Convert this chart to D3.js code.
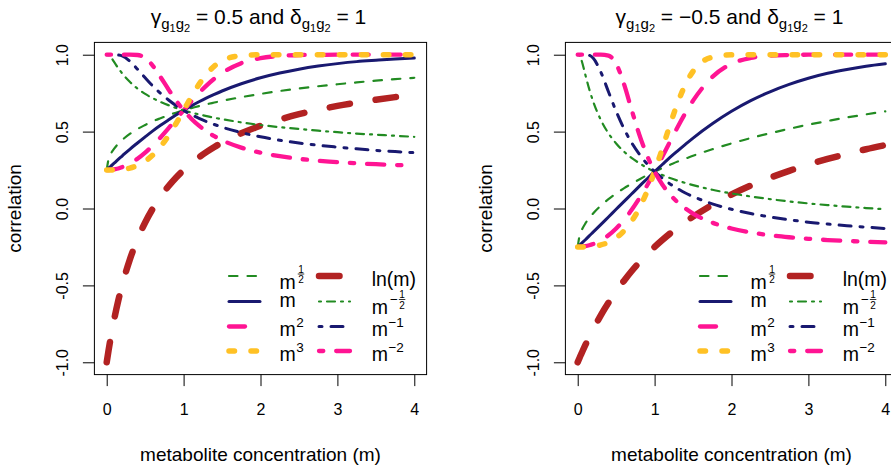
<!DOCTYPE html>
<html>
<head>
<meta charset="utf-8">
<script src="https://cdn.jsdelivr.net/npm/d3@7"></script>
<style>
  body { margin: 0; background: #fff; }
  svg { display: block; font-family: "Liberation Sans", Arial, sans-serif; }
</style>
</head>
<body>
<svg id="chart" width="891" height="468"></svg>
<script>
// metabolite concentration grid shared by every curve
const mValues = [0, 0.025, 0.05, 0.1, 0.15, 0.2, 0.3, 0.4, 0.5, 0.6, 0.7, 0.8, 0.9, 1,
  1.1, 1.2, 1.3, 1.4, 1.5, 1.75, 2, 2.25, 2.5, 2.75, 3, 3.25, 3.5, 3.75, 4];

const xTicks = [0, 1, 2, 3, 4];
const yTicks = [-1, -0.5, 0, 0.5, 1];
const yTickLabels = ["-1.0", "-0.5", "0.0", "0.5", "1.0"];

// panel 1: gamma = 0.5, delta = 1
const gammaA = "0.5";
const deltaA = "1";
const aSqrt = [0.25, 0.323, 0.352, 0.391, 0.421, 0.445, 0.485, 0.517, 0.543, 0.567, 0.587, 0.606, 0.623, 0.638, 0.653, 0.666, 0.678, 0.689, 0.700, 0.724, 0.745, 0.764, 0.780, 0.795, 0.808, 0.820, 0.831, 0.841, 0.850];
const aLin = [0.25, 0.262, 0.273, 0.296, 0.319, 0.341, 0.385, 0.426, 0.466, 0.505, 0.541, 0.575, 0.608, 0.638, 0.667, 0.694, 0.719, 0.742, 0.764, 0.811, 0.850, 0.881, 0.906, 0.926, 0.942, 0.955, 0.964, 0.972, 0.978];
const aSq = [0.25, 0.250, 0.251, 0.255, 0.260, 0.269, 0.292, 0.323, 0.363, 0.410, 0.462, 0.519, 0.579, 0.638, 0.696, 0.751, 0.801, 0.844, 0.881, 0.945, 0.978, 0.992, 0.998, 0.999, 1.000, 1.000, 1.000, 1.000, 1.000];
const aCube = [0.25, 0.250, 0.250, 0.250, 0.252, 0.254, 0.263, 0.280, 0.308, 0.348, 0.403, 0.471, 0.551, 0.638, 0.726, 0.807, 0.875, 0.926, 0.960, 0.994, 1.000, 1.000, 1.000, 1.000, 1.000, 1.000, 1.000, 1.000, 1.000];
const aLn = [-1, -0.920, -0.846, -0.714, -0.600, -0.500, -0.333, -0.200, -0.091, 0.000, 0.077, 0.143, 0.200, 0.250, 0.294, 0.333, 0.368, 0.400, 0.429, 0.489, 0.538, 0.579, 0.613, 0.642, 0.667, 0.688, 0.707, 0.724, 0.739];
const aInvSqrt = [1, 0.998, 0.986, 0.950, 0.913, 0.879, 0.824, 0.780, 0.745, 0.717, 0.693, 0.672, 0.654, 0.638, 0.624, 0.612, 0.601, 0.590, 0.581, 0.560, 0.543, 0.529, 0.517, 0.506, 0.496, 0.487, 0.480, 0.473, 0.466];
const aInv = [1, 1.000, 1.000, 1.000, 0.998, 0.992, 0.958, 0.906, 0.850, 0.796, 0.749, 0.707, 0.670, 0.638, 0.611, 0.586, 0.565, 0.546, 0.529, 0.494, 0.466, 0.444, 0.426, 0.411, 0.399, 0.388, 0.378, 0.370, 0.363];
const aInvSq = [1, 1, 1, 1, 1, 1, 1.000, 0.998, 0.978, 0.928, 0.855, 0.777, 0.703, 0.638, 0.584, 0.539, 0.501, 0.470, 0.444, 0.396, 0.363, 0.340, 0.323, 0.311, 0.301, 0.294, 0.288, 0.283, 0.279];

// panel 2: gamma = -0.5, delta = 1
const gammaB = "\u22120.5";
const deltaB = "1";
const bSqrt = [-0.25, -0.175, -0.143, -0.097, -0.062, -0.032, 0.018, 0.061, 0.098, 0.131, 0.161, 0.189, 0.216, 0.240, 0.263, 0.284, 0.305, 0.324, 0.343, 0.385, 0.423, 0.458, 0.489, 0.518, 0.545, 0.569, 0.592, 0.612, 0.632];
const bLin = [-0.25, -0.238, -0.226, -0.203, -0.178, -0.154, -0.105, -0.055, -0.005, 0.045, 0.094, 0.144, 0.192, 0.240, 0.286, 0.332, 0.375, 0.417, 0.458, 0.551, 0.632, 0.701, 0.759, 0.807, 0.847, 0.879, 0.904, 0.925, 0.941];
const bSq = [-0.25, -0.250, -0.249, -0.245, -0.239, -0.231, -0.207, -0.174, -0.130, -0.075, -0.010, 0.065, 0.148, 0.240, 0.336, 0.434, 0.530, 0.620, 0.701, 0.855, 0.941, 0.979, 0.994, 0.998, 1.000, 1.000, 1.000, 1.000, 1.000];
const bCube = [-0.25, -0.250, -0.250, -0.250, -0.248, -0.246, -0.237, -0.220, -0.191, -0.146, -0.084, 0.001, 0.109, 0.240, 0.389, 0.543, 0.687, 0.806, 0.892, 0.984, 0.999, 1.000, 1.000, 1.000, 1.000, 1.000, 1.000, 1.000, 1.000];
const bLn = [-1, -0.970, -0.942, -0.887, -0.835, -0.786, -0.695, -0.613, -0.538, -0.471, -0.408, -0.351, -0.299, -0.250, -0.205, -0.163, -0.124, -0.087, -0.053, 0.024, 0.091, 0.149, 0.200, 0.245, 0.286, 0.322, 0.355, 0.385, 0.412];
const bInvSqrt = [1, 0.994, 0.963, 0.868, 0.776, 0.698, 0.577, 0.489, 0.423, 0.371, 0.329, 0.295, 0.265, 0.240, 0.218, 0.198, 0.181, 0.166, 0.152, 0.122, 0.098, 0.078, 0.061, 0.046, 0.033, 0.022, 0.012, 0.003, -0.005];
const bInv = [1, 1.000, 1.000, 1.000, 0.996, 0.978, 0.888, 0.759, 0.632, 0.521, 0.429, 0.354, 0.291, 0.240, 0.197, 0.160, 0.129, 0.101, 0.078, 0.030, -0.005, -0.033, -0.055, -0.073, -0.089, -0.101, -0.112, -0.121, -0.130];
const bInvSq = [1, 1, 1, 1, 1, 1, 1.000, 0.994, 0.941, 0.812, 0.644, 0.482, 0.347, 0.240, 0.156, 0.092, 0.040, 0.000, -0.033, -0.092, -0.130, -0.155, -0.174, -0.187, -0.197, -0.205, -0.211, -0.216, -0.220];

// transformations, in drawing / legend order
const seriesKeys = ["sqrt", "lin", "sq", "cube", "ln", "invSqrt", "inv", "invSq"];
const legendBase = ["m", "m", "m", "m", "ln(m)", "m", "m", "m"];
const legendPower = ["1/2", "", "2", "3", "", "\u22121/2", "\u22121", "\u22122"];

const xLabel = "metabolite concentration (m)";
const yLabel = "correlation";

const panels = [
  { gamma: gammaA, delta: deltaA, values: [aSqrt, aLin, aSq, aCube, aLn, aInvSqrt, aInv, aInvSq] },
  { gamma: gammaB, delta: deltaB, values: [bSqrt, bLin, bSq, bCube, bLn, bInvSqrt, bInv, bInvSq] }
];

// line appearance for each transformation
const styles = {
  sqrt:    { color: "#228B22", width: 2.2, dash: "8.5,10" },
  lin:     { color: "#191970", width: 3,   dash: null },
  sq:      { color: "#FF1493", width: 4.3, dash: "16,16" },
  cube:    { color: "#FFC125", width: 5.5, dash: "5.5,16.5" },
  ln:      { color: "#B22222", width: 6.5, dash: "20.5,26" },
  invSqrt: { color: "#228B22", width: 2.2, dash: "2,6,8,6" },
  inv:     { color: "#191970", width: 3,   dash: "3,9,12,9" },
  invSq:   { color: "#FF1493", width: 4.3, dash: "4.3,12.9,17.2,12.9" }
};

const svg = d3.select("#chart");
const boxW = 332.2, boxTop = 42.4, boxBottom = 374.6;
const panelLeft = [94.4, 565.4];

panels.forEach((p, pi) => {
  const L = panelLeft[pi];
  const x = d3.scaleLinear().domain([-0.16, 4.16]).range([L, L + boxW]);
  const y = d3.scaleLinear().domain([-1.08, 1.08]).range([boxBottom, boxTop]);
  const g = svg.append("g");

  // curves
  const line = d3.line().x(d => x(d[0])).y(d => y(d[1])).curve(d3.curveMonotoneX);
  seriesKeys.forEach((k, si) => {
    const s = styles[k];
    const pts = mValues.map((m, i) => [m, p.values[si][i]]);
    g.append("path")
      .attr("d", line(pts))
      .attr("fill", "none")
      .attr("stroke", s.color)
      .attr("stroke-width", s.width)
      .attr("stroke-linecap", "round")
      .attr("stroke-linejoin", "round")
      .attr("stroke-dasharray", s.dash);
  });

  // frame
  g.append("rect")
    .attr("x", L).attr("y", boxTop)
    .attr("width", boxW).attr("height", boxBottom - boxTop)
    .attr("fill", "none").attr("stroke", "#000").attr("stroke-width", 1);

  // axes
  const xAxis = g.append("g").attr("transform", `translate(0,${boxBottom})`)
    .call(d3.axisBottom(x).tickValues(xTicks).tickSize(11.5).tickFormat(d3.format("d")));
  xAxis.select(".domain").remove();
  xAxis.selectAll("line").attr("stroke", "#000");
  xAxis.selectAll("text").attr("y", 40.5).attr("dy", null)
    .attr("font-size", 16).attr("fill", "#000").attr("font-family", "Liberation Sans, Arial, sans-serif");

  const yAxis = g.append("g").attr("transform", `translate(${L},0)`)
    .call(d3.axisLeft(y).tickValues(yTicks).tickSize(11.5).tickFormat((d, i) => yTickLabels[i]));
  yAxis.select(".domain").remove();
  yAxis.selectAll("line").attr("stroke", "#000");
  yAxis.selectAll("text")
    .attr("x", 0).attr("y", -26).attr("dy", null)
    .attr("transform", "rotate(-90)")
    .attr("text-anchor", "middle")
    .attr("font-size", 16).attr("fill", "#000").attr("font-family", "Liberation Sans, Arial, sans-serif");

  // axis titles
  g.append("text")
    .attr("x", L + boxW / 2).attr("y", 461)
    .attr("text-anchor", "middle").attr("font-size", 19)
    .text(xLabel);
  g.append("text")
    .attr("transform", `translate(${L - 73},${(boxTop + boxBottom) / 2}) rotate(-90)`)
    .attr("text-anchor", "middle").attr("font-size", 19)
    .text(yLabel);

  // title with subscripted symbols
  const t = g.append("text")
    .attr("x", L + boxW / 2 - 2).attr("y", 24)
    .attr("text-anchor", "middle").attr("font-size", 21);
  const addSym = (sym) => {
    t.append("tspan").text(sym);
    t.append("tspan").attr("font-size", 15).attr("dy", 5).text("g");
    t.append("tspan").attr("font-size", 11).attr("dy", 2.5).text("1");
    t.append("tspan").attr("font-size", 15).attr("dy", -2.5).text("g");
    t.append("tspan").attr("font-size", 11).attr("dy", 2.5).text("2");
  };
  addSym("\u03B3");
  t.append("tspan").attr("dy", -7.5).text(` = ${p.gamma} and `);
  addSym("\u03B4");
  t.append("tspan").attr("dy", -7.5).text(` = ${p.delta}`);

  // legend: two columns of four entries
  const rowY = [276, 301.5, 326.5, 351];
  const colLine = [L + 134.6, L + 224.6];
  const colText = [L + 185.1, L + 277.3];
  seriesKeys.forEach((k, si) => {
    const col = Math.floor(si / 4), row = si % 4;
    const s = styles[k];
    const ly = rowY[row];
    g.append("line")
      .attr("x1", colLine[col]).attr("x2", colLine[col] + 31)
      .attr("y1", ly).attr("y2", ly)
      .attr("stroke", s.color).attr("stroke-width", s.width)
      .attr("stroke-linecap", "round")
      .attr("stroke-dasharray", s.dash);

    const base = legendBase[si], pow = legendPower[si];
    const isFrac = pow.includes("/");
    const baseY = ly + (pow === "" ? (base === "m" ? 5.5 : 10) : (isFrac ? 12.5 : 9.5));
    const tx = colText[col];
    const bt = g.append("text").attr("x", tx).attr("y", baseY)
      .attr("font-size", 19.5).text(base);
    if (pow === "") return;
    const bw = bt.node().getComputedTextLength();
    if (!isFrac) {
      g.append("text").attr("x", tx + bw + 0.5).attr("y", baseY - 9)
        .attr("font-size", 13.5).text(pow);
    } else {
      const parts = pow.split("/");
      let fx = tx + bw + 2;
      const barY = baseY - 14.5;
      let num = parts[0];
      if (num.startsWith("\u2212")) {
        const mt = g.append("text").attr("x", fx).attr("y", barY + 4.5)
          .attr("font-size", 13.5).text("\u2212");
        fx += mt.node().getComputedTextLength() + 1;
        num = num.slice(1);
      }
      const fw = 6.5;
      g.append("text").attr("x", fx + fw / 2).attr("y", barY - 1.5)
        .attr("text-anchor", "middle").attr("font-size", 10).text(num);
      g.append("line").attr("x1", fx).attr("x2", fx + fw)
        .attr("y1", barY).attr("y2", barY).attr("stroke", "#000").attr("stroke-width", 0.8);
      g.append("text").attr("x", fx + fw / 2).attr("y", barY + 9)
        .attr("text-anchor", "middle").attr("font-size", 10).text(parts[1]);
    }
  });
});
</script>
</body>
</html>
